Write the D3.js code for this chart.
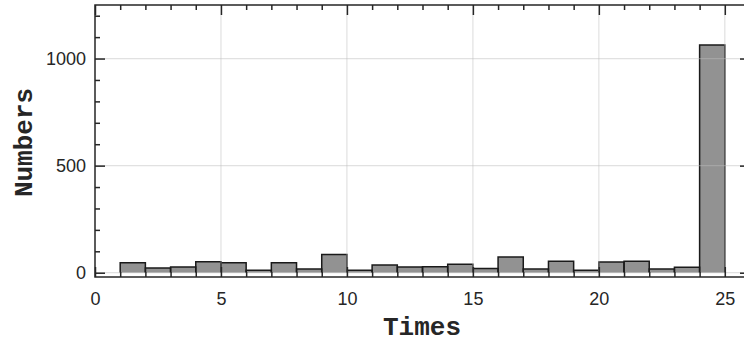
<!DOCTYPE html>
<html>
<head>
<meta charset="utf-8">
<script src="https://cdn.jsdelivr.net/npm/d3@7"></script>
<style>
  html, body { margin: 0; padding: 0; background: #fff; }
  svg { display: block; }
</style>
</head>
<body>
<div class="chart"></div>
<script>
// histogram bins: left edge of each unit-wide bin and its count
const binLeft = [1, 2, 3, 4, 5, 6, 7, 8, 9, 10, 11, 12, 13, 14, 15, 16, 17, 18, 19, 20, 21, 22, 23, 24];
const counts = [47, 22, 27, 51, 47, 11, 47, 17, 85, 12, 36, 27, 28, 40, 20, 73, 17, 54, 12, 50, 54, 17, 25, 1063];
const xTicks = [0, 5, 10, 15, 20, 25];
const yTicks = [0, 500, 1000];
const xLabel = "Times";
const yLabel = "Numbers";

const width = 744;
const height = 341;
const margin = { top: 5, right: -6, bottom: 64, left: 95 };
const innerWidth = width - margin.left - margin.right;
const innerHeight = height - margin.top - margin.bottom;

const ink = "#262626";

const svg = d3.select(".chart")
  .append("svg")
  .attr("width", width)
  .attr("height", height);

const x = d3.scaleLinear().domain([0, 26]).range([0, innerWidth]);
const y = d3.scaleLinear().domain([-20, 1250]).range([innerHeight, 0]);

const g = svg.append("g")
  .attr("transform", `translate(${margin.left},${margin.top})`);

// bars
const bins = binLeft.map((b, i) => ({ x0: b, x1: b + 1, n: counts[i] }));

g.append("g")
  .selectAll("rect")
  .data(bins)
  .enter()
  .append("rect")
  .attr("x", d => x(d.x0))
  .attr("y", d => y(d.n))
  .attr("width", d => x(d.x1) - x(d.x0))
  .attr("height", d => y(0) - y(d.n))
  .attr("fill", "#929292");

g.append("g")
  .selectAll("path")
  .data(bins)
  .enter()
  .append("path")
  .attr("d", d => `M${x(d.x0)},${y(0)}V${y(d.n)}H${x(d.x1)}V${y(0)}`)
  .attr("fill", "none")
  .attr("stroke", "#1a1a1a")
  .attr("stroke-width", 1.5);

// grid, drawn over the bars
const grid = g.append("g")
  .attr("stroke", "rgb(189,189,189)")
  .attr("stroke-opacity", 0.45)
  .attr("stroke-width", 1.2);

grid.selectAll(".vx")
  .data(xTicks.filter(t => t > 0))
  .enter()
  .append("line")
  .attr("x1", d => x(d)).attr("x2", d => x(d))
  .attr("y1", 0).attr("y2", innerHeight);

grid.selectAll(".hy")
  .data(yTicks)
  .enter()
  .append("line")
  .attr("x1", 0).attr("x2", innerWidth)
  .attr("y1", d => y(d)).attr("y2", d => y(d));

// axes, ticks pointing inward
const xMinor = d3.range(0, 27).filter(t => !xTicks.includes(t));
const yMinor = d3.range(100, 1300, 100).filter(t => !yTicks.includes(t));

const styleAxis = sel => {
  sel.select(".domain").remove();
  sel.selectAll("line").attr("stroke", ink).attr("stroke-width", 1.5);
  sel.selectAll("text")
    .attr("fill", ink)
    .style("font-family", "'Liberation Sans', Arial, sans-serif")
    .style("font-size", "18px");
};
// tick-only axes: drop the empty label nodes
const noLabels = sel => {
  sel.call(styleAxis);
  sel.selectAll("text").remove();
};

g.append("g")
  .attr("transform", `translate(0,${innerHeight})`)
  .call(d3.axisBottom(x).tickValues(xTicks).tickSize(-10).tickPadding(15).tickFormat(d3.format("d")))
  .call(styleAxis);
g.append("g")
  .attr("transform", `translate(0,${innerHeight})`)
  .call(d3.axisBottom(x).tickValues(xMinor).tickSize(-5))
  .call(noLabels);
g.append("g")
  .call(d3.axisTop(x).tickValues(xTicks).tickSize(-10))
  .call(noLabels);
g.append("g")
  .call(d3.axisTop(x).tickValues(xMinor).tickSize(-5))
  .call(noLabels);

g.append("g")
  .call(d3.axisLeft(y).tickValues(yTicks).tickSize(-10).tickPadding(9).tickFormat(d3.format("d")))
  .call(styleAxis);
g.append("g")
  .call(d3.axisLeft(y).tickValues(yMinor).tickSize(-5))
  .call(noLabels);
g.append("g")
  .attr("transform", `translate(${innerWidth},0)`)
  .call(d3.axisRight(y).tickValues(yTicks).tickSize(-10))
  .call(noLabels);
g.append("g")
  .attr("transform", `translate(${innerWidth},0)`)
  .call(d3.axisRight(y).tickValues(yMinor).tickSize(-5))
  .call(noLabels);

// box
g.append("rect")
  .attr("width", innerWidth)
  .attr("height", innerHeight)
  .attr("fill", "none")
  .attr("stroke", ink)
  .attr("stroke-width", 1.5);

// axis titles
svg.append("text")
  .attr("x", 422)
  .attr("y", 335)
  .attr("text-anchor", "middle")
  .attr("fill", ink)
  .style("font-family", "'Liberation Mono', 'Courier New', monospace")
  .style("font-weight", "bold")
  .style("font-size", "26px")
  .text(xLabel);

svg.append("text")
  .attr("transform", "translate(32,142.5) rotate(-90)")
  .attr("text-anchor", "middle")
  .attr("fill", ink)
  .style("font-family", "'Liberation Mono', 'Courier New', monospace")
  .style("font-weight", "bold")
  .style("font-size", "26px")
  .text(yLabel);
</script>
</body>
</html>
